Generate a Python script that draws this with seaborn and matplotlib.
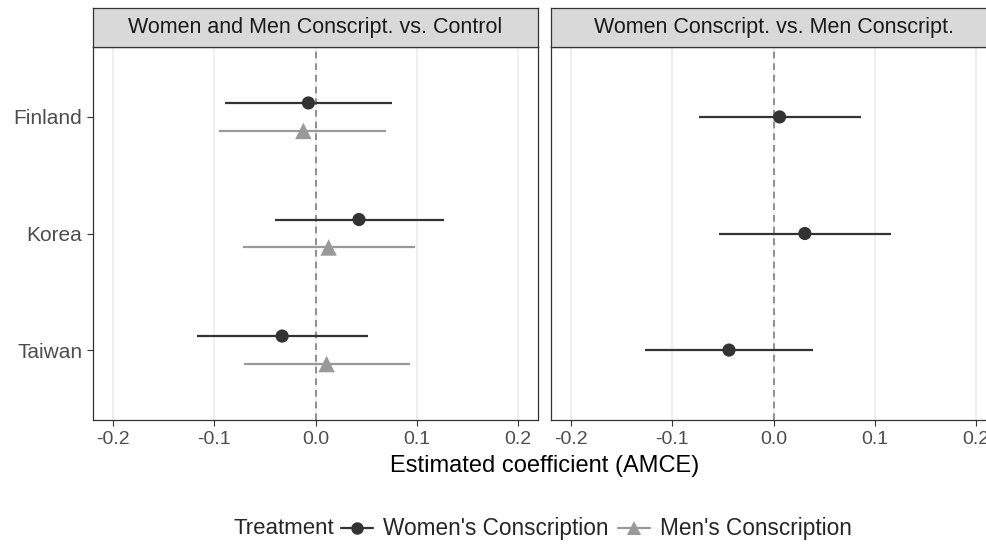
import numpy as np
import pandas as pd
import seaborn as sns
import matplotlib.pyplot as plt
from matplotlib.lines import Line2D

# Values
countries = ["Finland", "Korea", "Taiwan"]

# Panel 1: Women and Men Conscript. vs. Control
women_est = [-0.007, 0.043, -0.033]
women_lo = [-0.089, -0.040, -0.117]
women_hi = [0.076, 0.127, 0.052]
men_est = [-0.012, 0.013, 0.011]
men_lo = [-0.095, -0.072, -0.071]
men_hi = [0.070, 0.098, 0.093]

# Panel 2: Women Conscript. vs. Men Conscript.
diff_est = [0.006, 0.031, -0.044]
diff_lo = [-0.074, -0.054, -0.127]
diff_hi = [0.087, 0.116, 0.039]

panels = ["Women and Men Conscript. vs. Control", "Women Conscript. vs. Men Conscript."]
treatments = ["Women's Conscription", "Men's Conscription"]
xticks = [-0.2, -0.1, 0.0, 0.1, 0.2]

rows = []
for i, c in enumerate(countries):
    rows.append((panels[0], c, treatments[0], women_est[i], women_lo[i], women_hi[i]))
    rows.append((panels[0], c, treatments[1], men_est[i], men_lo[i], men_hi[i]))
    rows.append((panels[1], c, treatments[0], diff_est[i], diff_lo[i], diff_hi[i]))
df = pd.DataFrame(rows, columns=["panel", "country", "treatment", "est", "lo", "hi"])

sns.set_theme(style="white")
plt.rcParams["font.family"] = ["Liberation Sans", "DejaVu Sans"]

colors = {treatments[0]: "#333333", treatments[1]: "#999999"}
markers = {treatments[0]: "o", treatments[1]: "^"}
sizes = {treatments[0]: 90, treatments[1]: 140}

W, H = 987, 545
fig = plt.figure(figsize=(W / 100, H / 100), dpi=100)

panel_lefts = [93, 551]
panel_w = 445
panel_top, panel_bot = 47, 420
strip_top = 8

for k, (pname, px) in enumerate(zip(panels, panel_lefts)):
    ax = fig.add_axes([px / W, (H - panel_bot) / H, panel_w / W, (panel_bot - panel_top) / H])
    sub = df[df.panel == pname].copy()
    n_groups = sub.treatment.nunique()
    offs = {treatments[0]: -0.12, treatments[1]: 0.12} if n_groups > 1 else {treatments[0]: 0.0}
    sub["ypos"] = [countries.index(c) + offs[t] for c, t in zip(sub.country, sub.treatment)]

    for gx in xticks:
        ax.axvline(gx, color="#EBEBEB", lw=1.1, zorder=0)
    ax.axvline(0, color="#7F7F7F", lw=1.2, ls=(0, (4, 3)), zorder=1)

    for t in treatments:
        g = sub[sub.treatment == t]
        if g.empty:
            continue
        ax.hlines(g.ypos, g.lo, g.hi, color=colors[t], lw=1.6, zorder=2)
        sns.scatterplot(data=g, x="est", y="ypos", marker=markers[t], color=colors[t],
                        s=sizes[t], edgecolor="none", ax=ax, zorder=3, legend=False)

    ax.set_xlim(-0.22, 0.22)
    ax.set_ylim(2.6, -0.6)
    ax.set_xticks(xticks)
    ax.set_xticklabels(["-0.2", "-0.1", "0.0", "0.1", "0.2"])
    ax.set_xlabel("")
    ax.set_ylabel("")
    ax.tick_params(axis="x", length=4.3, width=0.8, color="#333333", labelcolor="#4D4D4D",
                   labelsize=14, pad=3.5, bottom=True)
    if k == 0:
        ax.set_yticks(range(len(countries)))
        ax.set_yticklabels(countries)
        ax.tick_params(axis="y", length=4.3, width=0.8, color="#333333", labelcolor="#4D4D4D",
                       labelsize=15, pad=3.5, left=True)
    else:
        ax.set_yticks([])
    for sp in ax.spines.values():
        sp.set_color("#333333")
        sp.set_linewidth(0.9)

    # facet strip
    sax = fig.add_axes([px / W, (H - panel_top) / H, panel_w / W, (panel_top - strip_top) / H])
    sax.set_facecolor("#D9D9D9")
    sax.set_xticks([])
    sax.set_yticks([])
    for sp in sax.spines.values():
        sp.set_color("#333333")
        sp.set_linewidth(0.9)
    sax.text(0.5, 0.5, pname, ha="center", va="center", fontsize=15.5, color="#1A1A1A",
             transform=sax.transAxes)

center_x = (panel_lefts[0] + panel_lefts[1] + panel_w) / 2 / W
fig.text(center_x, (H - 466) / H, "Estimated coefficient (AMCE)", ha="center", va="center",
         fontsize=17, color="black")

# legend at the bottom
handles = [Line2D([], [], color=colors[t], marker=markers[t], markersize=9 if t == treatments[0] else 10,
                  lw=1.6, markeredgewidth=0) for t in treatments]
fig.text(234 / W, (H - 529) / H, "Treatment", ha="left", va="center", fontsize=16)
fig.legend(handles, treatments, loc="center left", bbox_to_anchor=(341 / W, (H - 529) / H),
           ncol=2, frameon=False, fontsize=16.3, handlelength=1.42, handletextpad=0.45,
           columnspacing=0.4, borderpad=0, borderaxespad=0)

fig.savefig("out.png", dpi=100)
